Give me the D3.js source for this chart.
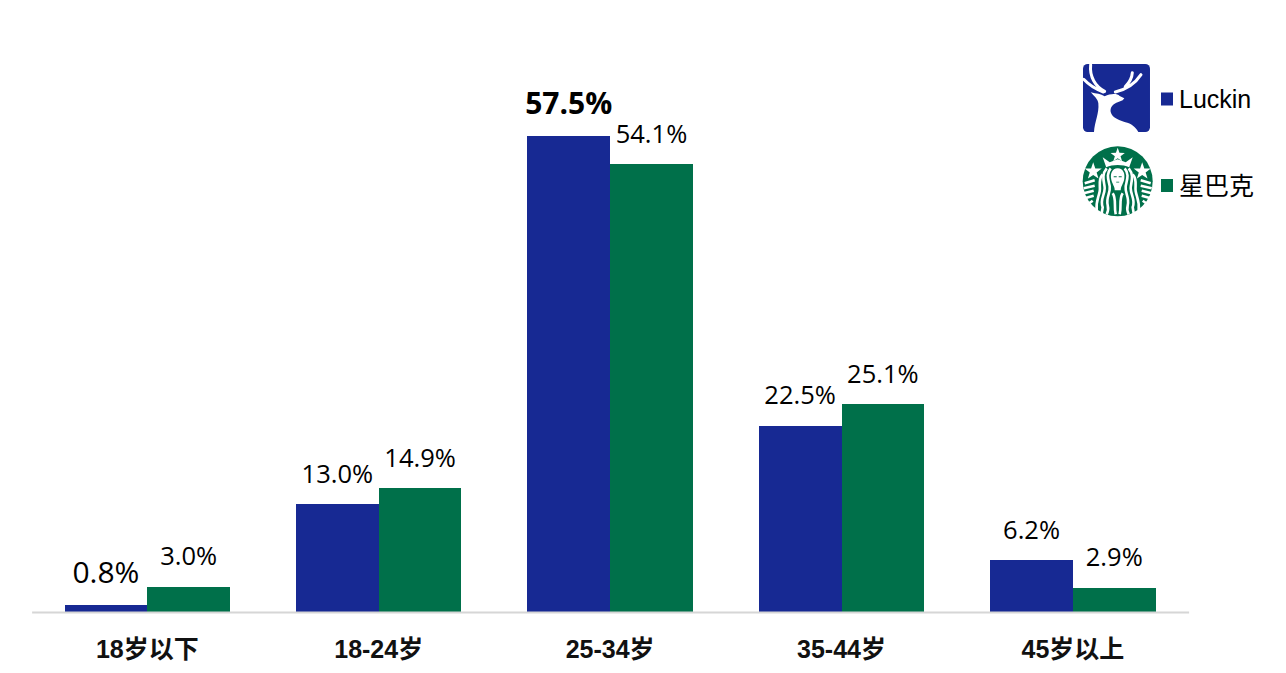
<!DOCTYPE html>
<html><head><meta charset="utf-8">
<script src="https://cdn.jsdelivr.net/npm/d3@7/dist/d3.min.js"></script>
<style>html,body{margin:0;padding:0;background:#fff}svg{display:block}</style></head>
<body><svg id="c" width="1286" height="673"></svg>
<script>
const categories = ["18岁以下","18-24岁","25-34岁","35-44岁","45岁以上"];
const seriesNames = ["Luckin","星巴克"];
const luckin = [0.8,13.0,57.5,22.5,6.2];
const starbucks = [3.0,14.9,54.1,25.1,2.9];
const colors = ["#172993","#00704a"];
const labelFont = "'Open Sans','Noto Sans CJK SC',sans-serif";
const cjkFont = "'Liberation Sans','Noto Sans CJK SC',sans-serif";
const svg = d3.select("#c");
const x = d3.scaleBand().domain(categories).range([31.6,1188.6]).paddingInner(0.285).paddingOuter(0.1425);
const inner = d3.scaleBand().domain([0,1]).range([0,x.bandwidth()]);
const y = d3.scaleLinear().domain([0,57.5]).range([611.5,136.4]);

[luckin,starbucks].forEach((vals,s)=>{
  svg.append("g").attr("shape-rendering","crispEdges").selectAll("rect").data(vals).join("rect")
    .attr("x",(d,i)=>x(categories[i])+inner(s)).attr("width",inner.bandwidth())
    .attr("y",d=>y(d)).attr("height",d=>y(0)-y(d)).attr("fill",colors[s]);
  svg.append("g").selectAll("text").data(vals).join("text")
    .attr("x",(d,i)=>x(categories[i])+inner(s)+inner.bandwidth()/2)
    .attr("y",(d,i)=>y(d)-(s===0&&i===2?22:21.5))
    .attr("text-anchor","middle")
    .attr("font-family",labelFont)
    .attr("font-size",(d,i)=>s===0&&i===2?30:(s===0&&i===0?30:25.5))
    .attr("font-weight",(d,i)=>s===0&&i===2?700:400)
    .attr("fill","#000")
    .text(d=>d.toFixed(1)+"%");
});
const axis = d3.axisBottom(x).tickSize(0).tickPadding(28);
const ax = svg.append("g").attr("transform","translate(0,612)").call(axis);
ax.select(".domain").attr("stroke","#d6d6d6").attr("stroke-width",2);
ax.selectAll("text").attr("font-family",cjkFont)
  .attr("font-size",25).attr("font-weight",700).attr("fill","#111");

// legend
const legendY=[99,186];
seriesNames.forEach((n,i)=>{
  svg.append("rect").attr("x",1161).attr("y",legendY[i]-6.5-(i?0.5:0)).attr("width",12).attr("height",13).attr("fill",colors[i]);
  svg.append("text").attr("x",1179).attr("y",legendY[i]+8.5).attr("font-family",cjkFont)
    .attr("font-size",25).attr("fill","#000").text(n);
});

// Luckin logo
const deer = svg.append("g").attr("transform","translate(1070,50) scale(0.3333)");
deer.append("rect").attr("x",39).attr("y",42).attr("width",201).attr("height",204).attr("rx",14).attr("fill",colors[0]);
deer.append("path").attr("fill","#fff").attr("d","M62 127 C80 132 92 131 104 139 C122 130 142 130 149 138 L163 145 L158 151 L145 156 C128 162 120 172 122 186 C126 204 150 212 172 218 C190 224 200 236 205 246 L72 246 C74 216 88 190 85 160 C84 148 72 138 62 127Z");
deer.append("path").attr("fill","none").attr("stroke","#fff").attr("stroke-width",9).attr("stroke-linecap","round")
  .attr("d","M62 44 C58 80 76 110 104 124 M41 88 C58 106 78 118 100 126 M213 74 C196 100 170 118 136 126 M187 68 C186 84 178 98 166 110");

// Starbucks logo
const sb = svg.append("g").attr("transform","translate(1117.7,181.3)");
const star = (cx,cy,R,r)=>d3.range(10).map(k=>{const a=-Math.PI/2+k*Math.PI/5,q=k%2?r:R;return (k?"L":"M")+(cx+q*Math.cos(a))+" "+(cy+q*Math.sin(a));}).join("")+"Z";
sb.append("circle").attr("r",35).attr("fill",colors[1]);
const w = "#fff";
sb.append("path").attr("fill",w).attr("d",star(0,-26,7.5,3));
sb.append("path").attr("fill",w).attr("d","M-15 -24 L-8 -19 L0 -22 L8 -19 L15 -24 L11.5 -14 C5 -17 -5 -17 -11.5 -14Z");
sb.append("path").attr("fill",w).attr("d",star(-24.5,-10,9,3.6)+star(24.5,-10,9,3.6));
sb.append("path").attr("fill",w).attr("d","M0 -13 C-6 -13 -7.5 -7 -6.5 -2 C-5.5 3 -3 5 -3 9 L3 9 C3 5 5.5 3 6.5 -2 C7.5 -7 6 -13 0 -13Z");
sb.append("path").attr("fill",colors[1]).attr("d","M-4 -5 h3 v0.9 h-3z M1 -5 h3 v0.9 h-3z M-1.5 0.5 h3 v0.8 h-3z");
const waves = ["M-7 -13 C-12 -7 -9 -1 -8 5 C-7 12 -12 16 -10 24 C-9 28 -10 31 -11 33",
"M-11 -13 C-17 -6 -13 2 -13 7 C-13 14 -18 18 -15 26 L-16 32",
"M-15 -7 C-20 -2 -17 5 -18 10 C-19 16 -22 20 -21 29",
"M-23 -1 L-33 2 M-23 4.5 L-34 7 M-24 9.5 L-34 12 M-24 14.5 L-33 17 M-25 19.5 L-30 23",
"M-2 33 C-4 25 -1 18 -5 12"];
waves.forEach(d=>{
  [1,-1].forEach(k=>sb.append("path").attr("transform",`scale(${k},1)`).attr("d",d).attr("fill","none").attr("stroke",w).attr("stroke-width",2.6));
});
</script></body></html>
